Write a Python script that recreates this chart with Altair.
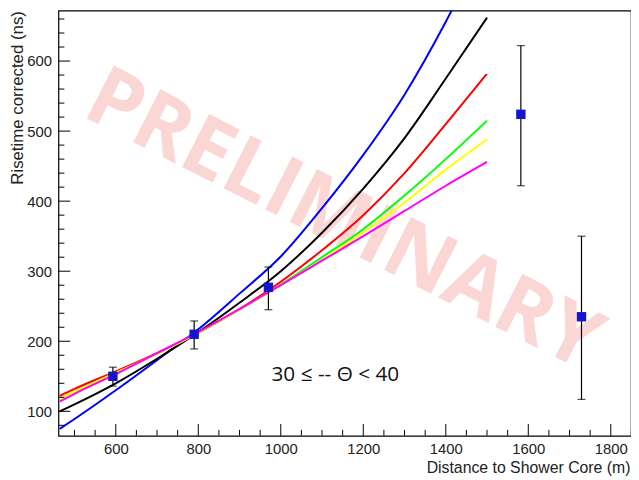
import altair as alt
import pandas as pd

# ---- data ----
dist = [464, 500, 600, 700, 800, 900, 1000, 1100, 1200, 1300, 1400, 1500]
blue = [75, 89, 130, 173, 217, 268, 321, 390, 466, 552, 656, 775]
black = [100, 110, 140, 175, 213, 255, 300, 355, 418, 490, 575, 662]
red = [122, 132, 157, 183, 212, 246, 285, 330, 380, 440, 510, 582]
green = [118, 128, 155, 182, 212, 245, 281, 320, 360, 408, 460, 515]
yellow = [118, 128, 155, 182, 212, 245, 280, 316, 355, 398, 445, 488]
magenta = [114, 125, 153, 183, 213, 246, 280, 315, 350, 386, 422, 456]

pt_x = [593, 790, 970, 1582, 1729]
pt_y = [150, 210, 277, 524, 235]
err_lo = [136, 189, 245, 422, 117]
err_hi = [163, 229, 306, 622, 350]

x_major = [600, 800, 1000, 1200, 1400, 1600, 1800]
x_minor = [500, 550, 650, 700, 750, 850, 900, 950, 1050, 1100, 1150, 1250, 1300,
           1350, 1450, 1500, 1550, 1650, 1700, 1750, 1850]
y_major = [100, 200, 300, 400, 500, 600]
y_minor = [80, 120, 140, 160, 180, 220, 240, 260, 280, 320, 340, 360, 380, 420,
           440, 460, 480, 520, 540, 560, 580, 620, 640, 660]

series = [("blue", blue, "#0000ff"), ("black", black, "#000000"),
          ("red", red, "#ff0000"), ("green", green, "#00ff00"),
          ("yellow", yellow, "#ffff00"), ("magenta", magenta, "#ff00ff")]

W, H = 579, 430
FONT = "Liberation Sans"

xs = alt.Scale(domain=[461, 1849], nice=False, zero=False)
ys = alt.Scale(domain=[65, 672], nice=False, zero=False)

# base layer holding axes
base = alt.Chart(pd.DataFrame({"x": x_major})).mark_point(opacity=0).encode(
    x=alt.X("x:Q", scale=xs, axis=alt.Axis(
        values=x_major, format="d", title="Distance to Shower Core (m)",
        ticks=False, tickSize=0, domain=False, grid=False,
        labelFont=FONT, labelFontSize=15, labelColor="#222222", labelPadding=6,
        titleFont=FONT, titleFontSize=16, titleFontWeight="normal", titleColor="#222222",
        titleAnchor="end", titleAlign="right", titleX=W - 1, titleY=32,
        titleBaseline="middle")),
    y=alt.Y("y:Q", scale=ys, axis=alt.Axis(
        values=y_major, format="d", title="Risetime corrected (ns)",
        ticks=False, tickSize=0, domain=False, grid=False,
        labelFont=FONT, labelFontSize=15, labelColor="#222222", labelPadding=7,
        titleFont=FONT, titleFontSize=17, titleFontWeight="normal", titleColor="#222222",
        titleAngle=-90, titleAlign="right", titleX=-41, titleY=0, titleBaseline="middle")),
).transform_calculate(y="150")

# watermark
wm = alt.Chart(pd.DataFrame({"t": ["PRELIMINARY"]})).mark_text(
    font="Open Sans", fontWeight="bold", fontSize=84, angle=27,
    color="#f4a09a", opacity=0.42, align="center", baseline="middle"
).encode(text="t:N", x=alt.value(288), y=alt.value(213))

layers = [base, wm]

for name, vals, col in series:
    df = pd.DataFrame({"d": dist, "v": vals})
    layers.append(alt.Chart(df).mark_line(color=col, strokeWidth=2, clip=True,
                                          interpolate="monotone").encode(
        x=alt.X("d:Q", scale=xs), y=alt.Y("v:Q", scale=ys)))

pts = pd.DataFrame({"x": pt_x, "y": pt_y, "lo": err_lo, "hi": err_hi})
err = alt.Chart(pts).mark_rule(color="#000000", strokeWidth=1.2).encode(
    x=alt.X("x:Q", scale=xs), y=alt.Y("lo:Q", scale=ys), y2="hi:Q")
cap_lo = alt.Chart(pts).mark_tick(color="#000000", orient="horizontal", size=8,
                                  thickness=1.2).encode(
    x=alt.X("x:Q", scale=xs), y=alt.Y("lo:Q", scale=ys))
cap_hi = alt.Chart(pts).mark_tick(color="#000000", orient="horizontal", size=8,
                                  thickness=1.2).encode(
    x=alt.X("x:Q", scale=xs), y=alt.Y("hi:Q", scale=ys))
sq = alt.Chart(pts).mark_square(color="#1515d0", size=90, opacity=1).encode(
    x=alt.X("x:Q", scale=xs), y=alt.Y("y:Q", scale=ys))

# inward ROOT-style ticks
xmaj = alt.Chart(pd.DataFrame({"t": x_major})).mark_rule(color="#000000").encode(
    x=alt.X("t:Q", scale=xs), y=alt.value(H), y2=alt.value(H - 12))
xmin = alt.Chart(pd.DataFrame({"t": x_minor})).mark_rule(color="#000000", clip=True).encode(
    x=alt.X("t:Q", scale=xs), y=alt.value(H), y2=alt.value(H - 6))
ymaj = alt.Chart(pd.DataFrame({"t": y_major})).mark_rule(color="#000000").encode(
    y=alt.Y("t:Q", scale=ys), x=alt.value(0), x2=alt.value(12))
ymin = alt.Chart(pd.DataFrame({"t": y_minor})).mark_rule(color="#000000", clip=True).encode(
    y=alt.Y("t:Q", scale=ys), x=alt.value(0), x2=alt.value(6))

ann = alt.Chart(pd.DataFrame({"t": ["30 \u2264 -- \u0398 < 40"]})).mark_text(
    font="Open Sans", fontSize=21, color="#111111", align="center", baseline="middle"
).encode(text="t:N", x=alt.value(280), y=alt.value(369))

layers += [err, cap_lo, cap_hi, sq, xmaj, xmin, ymaj, ymin, ann]

chart = alt.layer(*layers).properties(
    width=W, height=H,
    autosize=alt.AutoSizeParams(type="none"),
    padding={"left": 51, "top": 0, "right": 0, "bottom": 40},
).configure_view(stroke="#000000", strokeWidth=1.2)

chart.save("out.html", embed_options={"renderer": "svg", "actions": False})
